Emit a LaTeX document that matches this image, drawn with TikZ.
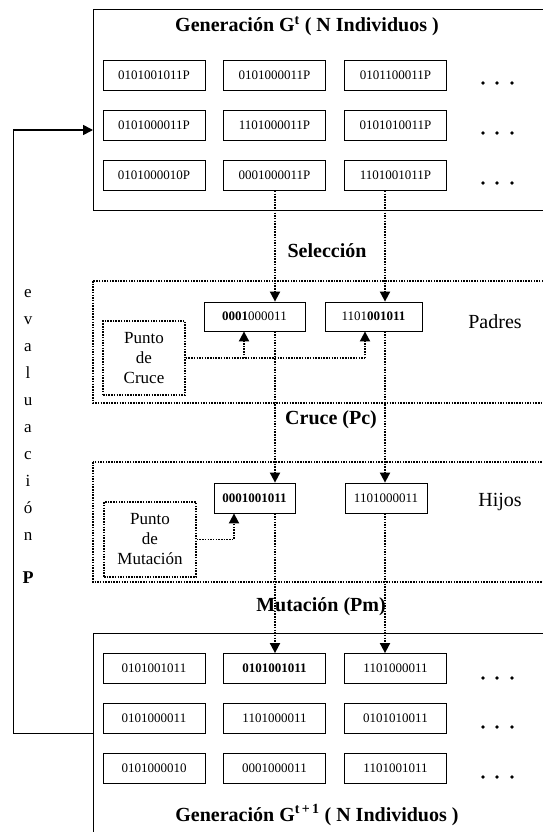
\documentclass[tikz,border=0pt]{standalone}
\usepackage{fontspec}
\setmainfont{Liberation Serif}
\usetikzlibrary{arrows.meta}

\begin{document}
\begin{tikzpicture}[x=1pt,y=-1pt,
    cell/.style={draw,line width=0.8pt,inner sep=0pt,minimum width=102pt,minimum height=30pt,font=\fontsize{13}{15}\selectfont},
    dots/.style={line width=1.8pt,dash pattern=on 1.5pt off 1.2pt},
    tip/.style={-{Triangle[length=10pt,width=10pt]}},
    title/.style={font=\bfseries\fontsize{20}{22}\selectfont},
    side/.style={font=\fontsize{20}{22}\selectfont},
    punto/.style={draw,dots,line width=1.5pt,inner sep=0pt,align=center,font=\fontsize{17}{20}\selectfont}]
  \useasboundingbox (0,0) rectangle (543,832);
  \clip (0,0) rectangle (543,832);
  \fill[white] (0,0) rectangle (543,832);

  \draw[line width=0.9pt] (93,9) rectangle (570,210);
  \draw[line width=0.9pt] (93,633) rectangle (570,860);
  \draw[dots] (93,281) rectangle (570,403);
  \draw[dots] (93,462) rectangle (570,582);

  \draw
    (154,75) node[cell] (g11){0101001011P}
    (274.5,75) node[cell] (g12){0101000011P}
    (395.5,75) node[cell] (g13){0101100011P}
    (154,125) node[cell] (g21){0101000011P}
    (274.5,125) node[cell] (g22){1101000011P}
    (395.5,125) node[cell] (g23){0101010011P}
    (154,175.5) node[cell] (g31){0101000010P}
    (274.5,175.5) node[cell] (g32){0001000011P}
    (395.5,175.5) node[cell] (g33){1101001011P};

  \draw
    (254.5,316.5) node[cell,minimum width=101pt,minimum height=29pt] (pa){\textbf{0001}000011}
    (373.5,316.5) node[cell,minimum width=97pt,minimum height=29pt] (pb){1101\textbf{001011}}
    (254.5,498) node[cell,minimum width=81pt] (hc){\textbf{0001001011}}
    (386,498) node[cell,minimum width=82pt] (hd){1101000011};

  \draw
    (154,668.5) node[cell] (m11){0101001011}
    (274.5,668.5) node[cell] (m12){\textbf{0101001011}}
    (395.5,668.5) node[cell] (m13){1101000011}
    (154,718.5) node[cell] (m21){0101000011}
    (274.5,718.5) node[cell] (m22){1101000011}
    (395.5,718.5) node[cell] (m23){0101010011}
    (154,768.5) node[cell] (m31){0101000010}
    (274.5,768.5) node[cell] (m32){0001000011}
    (395.5,768.5) node[cell] (m33){1101001011};

  \foreach \y in {83,133,183,678,727,777}
    \foreach \x in {483,497,512}
      \fill (\x,\y) circle (1.9pt);

  \node[title] (gt) at (307,26) {Generación G\textsuperscript{t} ( N Individuos )};
  \node[title] (gt1) at (317,815) {Generación G\textsuperscript{t\,+\,1} ( N Individuos )};
  \node[title] (sel) at (327,251) {Selección};
  \node[title] (cru) at (331,420) {Cruce (Pc)};
  \node[title] (mutp) at (321,607) {Mutación (Pm)};
  \node[side] (padres) at (495,322) {Padres};
  \node[side] (hijos) at (500,502) {Hijos};

  \node[punto,minimum width=82pt,minimum height=74pt] (cruce) at (144,358) {Punto\\de\\Cruce};
  \node[punto,minimum width=92pt,minimum height=75pt] (mut) at (150,539.5) {Punto\\de\\Mutación};

  \node[align=center,font=\fontsize{17}{27}\selectfont] (eval) at (28,415) {e\\v\\a\\l\\u\\a\\c\\i\\ó\\n};
  \node[font=\bfseries\fontsize{18}{20}\selectfont] (pp) at (28,578) {P};

  \coordinate (k1) at (275,0);
  \coordinate (k2) at (385,0);
  \coordinate (k3) at (244,0);
  \coordinate (k4) at (365,0);
  \coordinate (k5) at (234,0);
  \coordinate (ev0) at (93,733);
  \coordinate (ev1) at (13,733);
  \coordinate (ev2) at (13,130);
  \coordinate (ev3) at (93,130);

  \begin{scope}[dots,tip]
    \draw (g32.south -| k1) to (pa.north -| k1);
    \draw (g33.south -| k2) to (pb.north -| k2);
    \draw (pa.south -| k1) to (hc.north -| k1);
    \draw (pb.south -| k2) to (hd.north -| k2);
    \draw (hc.south -| k1) to (m12.north -| k1);
    \draw (hd.south -| k2) to (m13.north -| k2);
    \draw (cruce.east -| k3) to (pa.south -| k3);
    \draw (cruce.east -| k4) to (pb.south -| k4);
    \draw (mut.east) -| (hc.south -| k5);
  \end{scope}
  \draw[dots] (cruce.east) -- (cruce.east -| k4);

  \draw[line width=0.9pt] (ev0) -- (ev1) -- (ev2);
  \draw[line width=1.6pt,tip] (ev2) -- (ev3);
\end{tikzpicture}
\end{document}
